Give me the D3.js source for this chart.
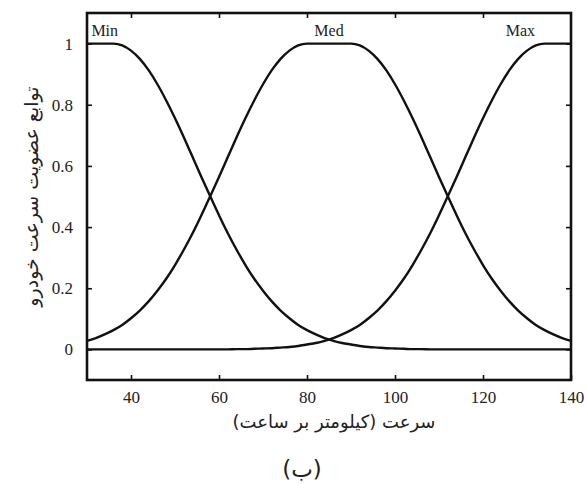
<!DOCTYPE html>
<html>
<head>
<meta charset="utf-8">
<script src="https://cdn.jsdelivr.net/npm/d3@7"></script>
<style>
  html, body { margin: 0; padding: 0; background: #fff; }
  svg { display: block; }
  .tick line { stroke: #111; stroke-width: 1.6; }
</style>
</head>
<body>
<svg id="chart" width="587" height="484"></svg>
<script>
// Vehicle-speed membership functions (km/h) sampled every 2 km/h
const speed = [30,32,34,36,38,40,42,44,46,48,50,52,54,56,58,60,62,64,66,68,70,72,74,76,78,80,
               82,84,86,88,90,92,94,96,98,100,102,104,106,108,110,112,114,116,118,120,122,124,
               126,128,130,132,134,136,138,140];

const minValues = [1,1,1,1,0.994,0.977,0.950,0.913,0.867,0.814,0.756,0.694,0.629,0.564,0.501,0.439,
                   0.380,0.326,0.276,0.231,0.192,0.157,0.127,0.102,0.080,0.063,0.049,0.037,0.028,
                   0.021,0.016,0.011,0.008,0.006,0.004,0.003,0.002,0.001,0.001,0,0,0,0,0,0,0,0,0,
                   0,0,0,0,0,0,0,0];

const medValues = [0.028,0.037,0.049,0.063,0.080,0.102,0.127,0.157,0.192,0.231,0.276,0.326,0.380,
                   0.439,0.501,0.564,0.629,0.694,0.756,0.814,0.867,0.913,0.950,0.977,0.994,1,1,1,
                   1,1,1,0.994,0.977,0.950,0.913,0.867,0.814,0.756,0.694,0.629,0.564,0.501,0.439,
                   0.380,0.326,0.276,0.231,0.192,0.157,0.127,0.102,0.080,0.063,0.049,0.037,0.028];

const maxValues = [0,0,0,0,0,0,0,0,0,0,0,0,0,0,0,0,0,0.001,0.001,0.002,0.003,0.004,0.006,0.008,
                   0.011,0.016,0.021,0.028,0.037,0.049,0.063,0.080,0.102,0.127,0.157,0.192,0.231,
                   0.276,0.326,0.380,0.439,0.501,0.564,0.629,0.694,0.756,0.814,0.867,0.913,0.950,
                   0.977,0.994,1,1,1,1];

const seriesNames = ["Min", "Med", "Max"];
const labelSpeed = [31, 85, 128.5];
const labelAnchor = ["start", "middle", "middle"];

const xTicks = [40, 60, 80, 100, 120, 140];
const yTicks = [0, 0.2, 0.4, 0.6, 0.8, 1];
const yTickLabels = ["0", "0.2", "0.4", "0.6", "0.8", "1"];

const xTitle = "سرعت (کیلومتر بر ساعت)";
const yTitle = "توابع عضویت سرعت خودرو";
const caption = "(ب)";

const serif = "'Liberation Serif', 'Times New Roman', serif";
const arabic = "'DejaVu Sans', sans-serif";

const svg = d3.select("#chart");
const margin = { left: 87, right: 16, top: 13, bottom: 104 };
const W = 587, H = 484;

const x = d3.scaleLinear().domain([30, 140]).range([margin.left, W - margin.right]);
const y = d3.scaleLinear().domain([-0.1, 1.1]).range([H - margin.bottom, margin.top]);

// axes with inward ticks
const gx = svg.append("g").attr("transform", `translate(0,${y(-0.1)})`)
  .call(d3.axisBottom(x).tickValues(xTicks).tickSize(-5).tickPadding(11).tickFormat(d3.format("d")));
const gxTop = svg.append("g").attr("transform", `translate(0,${y(1.1)})`)
  .call(d3.axisTop(x).tickValues(xTicks.filter(d => d < 140)).tickSize(-5).tickFormat(""));
const gy = svg.append("g").attr("transform", `translate(${x(30)},0)`)
  .call(d3.axisLeft(y).tickValues(yTicks).tickSize(-5).tickPadding(14)
        .tickFormat((d, i) => yTickLabels[i]));
const gyRight = svg.append("g").attr("transform", `translate(${x(140)},0)`)
  .call(d3.axisRight(y).tickValues(yTicks).tickSize(-5).tickFormat(""));
[gx, gxTop, gy, gyRight].forEach(g => {
  g.select(".domain").remove();
  g.attr("font-family", serif).attr("font-size", 17);
  g.selectAll(".tick text").attr("fill", "#222");
});

// membership curves
const line = d3.line()
  .x((d, i) => x(speed[i]))
  .y(d => y(d))
  .curve(d3.curveMonotoneX);

[minValues, medValues, maxValues].forEach(vals => {
  svg.append("path")
    .attr("d", line(vals))
    .attr("fill", "none")
    .attr("stroke", "#111")
    .attr("stroke-width", 2.4)
    .attr("stroke-linejoin", "round");
});

// plot frame
svg.append("rect")
  .attr("x", x(30)).attr("y", y(1.1))
  .attr("width", x(140) - x(30)).attr("height", y(-0.1) - y(1.1))
  .attr("fill", "none").attr("stroke", "#111").attr("stroke-width", 2.6);

// series names
seriesNames.forEach((name, i) => {
  svg.append("text")
    .attr("x", x(labelSpeed[i]))
    .attr("y", y(1.025))
    .attr("text-anchor", labelAnchor[i])
    .attr("font-family", serif)
    .attr("font-size", 16)
    .attr("fill", "#222")
    .text(name);
});

// axis titles and caption
svg.append("text")
  .attr("x", 334).attr("y", 428)
  .attr("text-anchor", "middle")
  .attr("direction", "rtl")
  .attr("font-family", arabic)
  .attr("font-size", 18)
  .attr("fill", "#222")
  .text(xTitle);

svg.append("text")
  .attr("transform", `translate(38,${y(0.5)}) rotate(-90)`)
  .attr("text-anchor", "middle")
  .attr("direction", "rtl")
  .attr("font-family", arabic)
  .attr("font-size", 19)
  .attr("fill", "#222")
  .text(yTitle);

svg.append("text")
  .attr("x", 302).attr("y", 477)
  .attr("text-anchor", "middle")
  .attr("direction", "rtl")
  .attr("font-family", arabic)
  .attr("font-size", 23)
  .attr("fill", "#222")
  .text(caption);
</script>
</body>
</html>
